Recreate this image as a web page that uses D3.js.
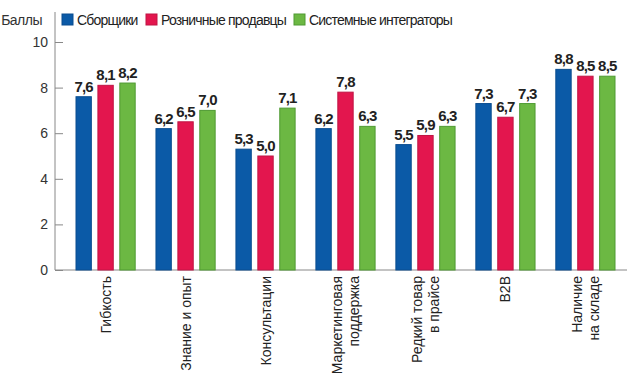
<!DOCTYPE html>
<html>
<head>
<meta charset="utf-8">
<script src="https://cdn.jsdelivr.net/npm/d3@7"></script>
<style>
  body { margin: 0; background: #fff; }
  text { font-family: "Liberation Sans", Arial, sans-serif; }
</style>
</head>
<body>
<div id="chart"></div>
<script>
// Оценки по категориям для трёх типов партнёров
const categories = [
    ["Гибкость"],
    ["Знание и опыт"],
    ["Консультации"],
    ["Маркетинговая", "поддержка"],
    ["Редкий товар", "в прайсе"],
    ["B2B"],
    ["Наличие", "на складе"]
];
const seriesNames = ["Сборщики", "Розничные продавцы", "Системные интеграторы"];
const assemblers = [7.6, 6.2, 5.3, 6.2, 5.5, 7.3, 8.8];
const retailers = [8.1, 6.5, 5.0, 7.8, 5.9, 6.7, 8.5];
const integrators = [8.2, 7.0, 7.1, 6.3, 6.3, 7.3, 8.5];
const yTicks = [0, 2, 4, 6, 8, 10];

const colors = ["#0b5aa7", "#e3164e", "#6cb843"];
const strokes = ["#0a4d8f", "#c01444", "#4f9a32"];

const width = 640,
      height = 376,
      margin = ({top: 42, right: 14, bottom: 106, left: 55});

const series = [assemblers, retailers, integrators];
const data = categories.map((c, i) => ({
    key: i,
    label: c,
    values: series.map((s, j) => ({series: j, value: s[i]}))
}));

let svg = d3.select("#chart")
            .append("svg")
            .attr("width", width)
            .attr("height", height);

const x0 = d3.scaleBand()
             .domain(data.map(d => d.key))
             .range([76, 615])
             .paddingInner(0.26)
             .paddingOuter(0);

const x1 = d3.scaleBand()
             .domain([0, 1, 2])
             .range([0, x0.bandwidth()])
             .paddingInner(0.3);

const y = d3.scaleLinear()
            .domain([0, 10])
            .range([height - margin.bottom, margin.top]);

// ось Y
const yAxis = g => g
    .attr("transform", `translate(${margin.left},0)`)
    .call(d3.axisRight(y).tickValues(yTicks).tickSize(8).tickFormat(d3.format("d")))
    .call(g => g.select(".domain").remove())
    .call(g => g.selectAll(".tick line").attr("stroke", "#888"))
    .call(g => g.selectAll(".tick text")
        .attr("x", -7)
        .attr("text-anchor", "end")
        .attr("font-size", 14)
        .attr("fill", "#333"));

svg.append("g").call(yAxis);

svg.append("line")
    .attr("x1", margin.left).attr("x2", margin.left)
    .attr("y1", 12).attr("y2", y(0))
    .attr("stroke", "#888");

svg.append("line")
    .attr("x1", margin.left).attr("x2", 627)
    .attr("y1", y(0)).attr("y2", y(0))
    .attr("stroke", "#888");

let group = svg.selectAll(".grp")
    .data(data)
    .join("g")
    .attr("class", "grp")
    .attr("transform", d => `translate(${x0(d.key)},0)`);

let bar = group.selectAll(".bar")
    .data(d => d.values)
    .join("g")
    .attr("class", "bar");

bar.append("rect")
    .attr("x", d => x1(d.series))
    .attr("width", x1.bandwidth())
    .attr("y", d => y(d.value))
    .attr("height", d => y(0) - y(d.value))
    .attr("fill", d => colors[d.series])
    .attr("stroke", d => strokes[d.series])
    .attr("stroke-width", 1);

bar.append("text")
    .text(d => d3.format(".1f")(d.value).replace(".", ","))
    .attr("x", d => x1(d.series) + x1.bandwidth() / 2)
    .attr("y", d => y(d.value) - 5)
    .attr("text-anchor", "middle")
    .attr("font-size", 15)
    .attr("font-weight", "bold")
    .attr("letter-spacing", -0.8)
    .attr("fill", "#222");

// подписи категорий, повернутые
group.each(function(d) {
    const cx = x0.bandwidth() / 2;
    const n = d.label.length;
    d.label.forEach((line, i) => {
        const off = (i - (n - 1) / 2) * 17;
        d3.select(this).append("text")
            .text(line)
            .attr("transform", `translate(${cx + off + 5},${y(0) + 6}) rotate(-90)`)
            .attr("text-anchor", "end")
            .attr("font-size", 14)
            .attr("fill", "#222");
    });
});

// легенда
svg.append("text")
    .text("Баллы")
    .attr("x", 42).attr("y", 25)
    .attr("text-anchor", "end")
    .attr("font-size", 14)
    .attr("letter-spacing", -0.5)
    .attr("fill", "#333");

const legendX = [62, 146, 294];
let legend = svg.selectAll(".legend")
    .data(seriesNames)
    .join("g")
    .attr("class", "legend")
    .attr("transform", (d, i) => `translate(${legendX[i]},14)`);

legend.append("rect")
    .attr("width", 11).attr("height", 11)
    .attr("fill", (d, i) => colors[i])
    .attr("stroke", (d, i) => strokes[i]);

legend.append("text")
    .text(d => d)
    .attr("x", 15).attr("y", 11)
    .attr("font-size", 14)
    .attr("letter-spacing", -0.8)
    .attr("fill", "#222");
</script>
</body>
</html>
